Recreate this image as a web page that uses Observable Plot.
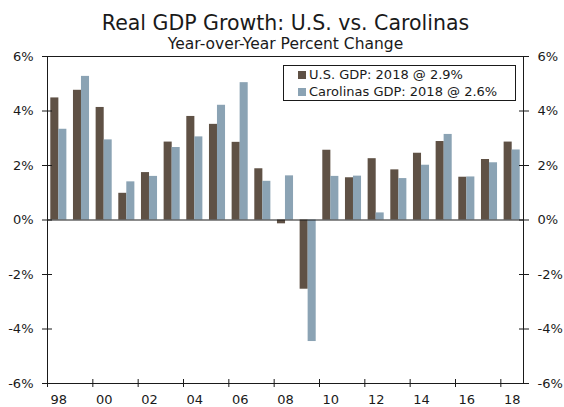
<!DOCTYPE html>
<html>
<head>
<meta charset="utf-8">
<script src="https://cdn.jsdelivr.net/npm/d3@7"></script>
<script src="https://cdn.jsdelivr.net/npm/@observablehq/plot@0.6"></script>
<style>
  body { margin: 0; background: #fff; }
  #wrap { position: relative; width: 564px; height: 407px; font-family: "DejaVu Sans", Verdana, sans-serif; color: #1a1a1a; background: #fff; }
  #title { position: absolute; z-index: 2; left: 47px; width: 477px; top: 12.7px; text-align: center; font-size: 20.5px; line-height: 20.5px; white-space: nowrap; }
  #subtitle { position: absolute; z-index: 2; left: 47px; width: 477px; top: 36.6px; text-align: center; font-size: 15.5px; line-height: 15.5px; white-space: nowrap; }
  #plot { position: absolute; z-index: 1; left: 0; top: 48px; }
  #plot svg { overflow: visible; }
  #legend { position: absolute; z-index: 3; left: 283px; top: 65px; width: 231px; height: 34px; border: 1px solid #1a1a1a; background: #fff; box-sizing: content-box; }
  .leg-swatches { font-family: "DejaVu Sans", Verdana, sans-serif !important; font-size: 13px !important; color: #1a1a1a; margin: 0 !important; padding-left: 14px; }
  .leg-swatch { height: 17px; padding: 0 !important; line-height: 17px; }
  .leg-swatch > svg { margin-right: 3px !important; }
</style>
</head>
<body>
<div id="wrap">
  <div id="title">Real GDP Growth: U.S. vs. Carolinas</div>
  <div id="subtitle">Year-over-Year Percent Change</div>
  <div id="plot"></div>
  <div id="legend"></div>
</div>
<script>
// ---- data ----
const years = [1998, 1999, 2000, 2001, 2002, 2003, 2004, 2005, 2006, 2007, 2008,
               2009, 2010, 2011, 2012, 2013, 2014, 2015, 2016, 2017, 2018];
const usGrowth = [4.48, 4.76, 4.13, 0.98, 1.74, 2.86, 3.80, 3.51, 2.85, 1.88, -0.14,
                  -2.54, 2.56, 1.55, 2.25, 1.84, 2.45, 2.88, 1.57, 2.22, 2.86];
const carolinasGrowth = [3.33, 5.27, 2.94, 1.40, 1.60, 2.66, 3.05, 4.21, 5.04, 1.42, 1.62,
                         -4.46, 1.60, 1.61, 0.26, 1.52, 2.01, 3.14, 1.58, 2.10, 2.57];
const seriesNames = ["U.S. GDP", "Carolinas GDP"];
const legendLabels = ["U.S. GDP: 2018 @ 2.9%", "Carolinas GDP: 2018 @ 2.6%"];
const seriesColors = ["#5f5145", "#8ba3b4"];
const yTicks = [-6, -4, -2, 0, 2, 4, 6];
const xTickLabels = ["98", "00", "02", "04", "06", "08", "10", "12", "14", "16", "18"];

// ---- derived table ----
const rows = years.flatMap((yr, i) => [
  {year: yr, series: seriesNames[0], value: usGrowth[i]},
  {year: yr, series: seriesNames[1], value: carolinasGrowth[i]}
]);
const labelYears = years.filter((y, i) => i % 2 === 0);
const boundaryTicks = labelYears.map(y => y - 0.5);
const ink = "#1a1a1a";
const colorScale = {domain: seriesNames, range: seriesColors};

const chart = Plot.plot({
  width: 564,
  height: 359,
  marginTop: 8,
  marginBottom: 24,
  marginLeft: 47,
  marginRight: 41,
  style: {fontFamily: "'DejaVu Sans', Verdana, sans-serif", fontSize: "13px", color: ink, background: "transparent", overflow: "visible"},
  x: {domain: [years[0] - 0.5, years[years.length - 1] + 0.5], label: null},
  y: {domain: [yTicks[0], yTicks[yTicks.length - 1]], label: null},
  color: colorScale,
  marks: [
    Plot.rectY(rows, {
      filter: d => d.series === seriesNames[0],
      x1: d => d.year - 0.5, x2: d => d.year + 0.5,
      y1: 0, y2: "value", fill: "series",
      insetLeft: 3.3, insetRight: 11.3
    }),
    Plot.rectY(rows, {
      filter: d => d.series === seriesNames[1],
      x1: d => d.year - 0.5, x2: d => d.year + 0.5,
      y1: 0, y2: "value", fill: "series",
      insetLeft: 11.3, insetRight: 3.3
    }),
    Plot.ruleY([0], {stroke: ink}),
    Plot.frame({stroke: ink}),
    Plot.axisY({anchor: "left", ticks: yTicks, tickFormat: d => d + "%", tickSize: 10, dx: 5, tickPadding: 9, stroke: ink}),
    Plot.axisY({anchor: "right", ticks: yTicks, tickFormat: d => d + "%", tickSize: 10, dx: -5, tickPadding: 9, stroke: ink}),
    Plot.axisX({anchor: "bottom", ticks: boundaryTicks, tickFormat: () => "", tickSize: 8, dy: -4, stroke: ink}),
    Plot.axisX({anchor: "bottom", ticks: labelYears, tickFormat: d => xTickLabels[labelYears.indexOf(d)], tickSize: 0, tickPadding: 11})
  ]
});
document.getElementById("plot").appendChild(chart);

const legend = Plot.legend({
  color: colorScale,
  legend: "swatches",
  columns: 1,
  swatchSize: 8,
  className: "leg",
  tickFormat: d => legendLabels[seriesNames.indexOf(d)]
});
document.getElementById("legend").appendChild(legend);
</script>
</body>
</html>
